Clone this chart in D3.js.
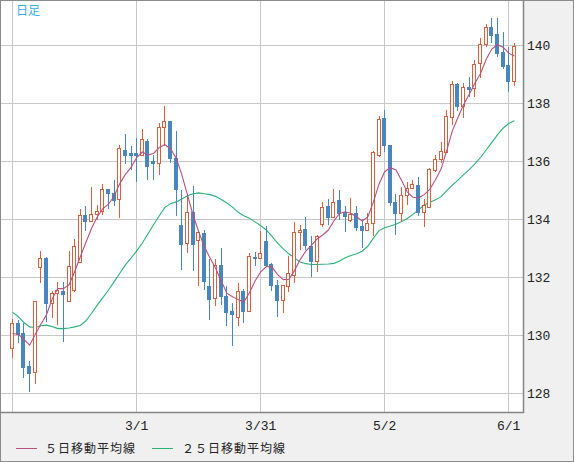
<!DOCTYPE html>
<html><head><meta charset="utf-8">
<script src="https://cdn.jsdelivr.net/npm/d3@7"></script>
<style>html,body{margin:0;padding:0;background:#f0f0f0;}svg{display:block;}</style>
</head><body>
<svg id="c" width="574" height="462"></svg>
<script>
// ---- data (USD/JPY daily) ----
const openV = [129.54,130.43,130.08,128.93,128.71,132.33,132.67,131.09,131.44,131.52,
131.18,131.55,132.53,134.15,133.92,134.17,134.29,135.03,134.90,134.69,
136.39,136.26,136.28,136.22,136.70,135.99,135.93,137.17,137.39,136.10,
133.80,133.17,134.24,133.29,133.52,131.70,131.28,132.43,131.36,130.82,
130.61,131.53,130.82,132.69,132.66,133.23,132.45,131.71,131.20,131.70,
132.08,133.55,133.66,133.08,132.54,133.84,134.46,134.07,134.67,134.23,
133.98,134.21,133.75,133.63,133.86,136.22,137.48,136.54,134.60,134.20,
134.83,135.06,135.17,134.25,134.43,135.69,136.06,136.32,137.53,138.66,
137.90,138.54,138.51,139.37,140.02,140.61,140.38,139.77,139.31,138.77];
const highV = [130.54,130.52,130.43,129.10,131.18,132.90,132.70,131.53,131.82,131.82,
132.91,133.32,134.34,134.46,135.09,134.49,135.22,135.05,135.36,136.54,
136.94,136.51,136.79,137.10,136.76,136.22,137.31,137.91,137.39,137.02,
135.01,134.87,135.13,133.57,133.63,132.62,132.62,133.00,131.68,131.10,
131.79,131.59,132.83,132.85,133.57,133.75,132.48,131.91,131.71,132.71,
133.89,133.80,134.06,133.40,133.46,134.57,134.70,135.03,134.99,134.46,
134.72,134.46,134.00,134.21,136.33,137.56,137.77,136.56,134.85,135.11,
135.29,135.34,135.46,134.68,135.75,136.21,136.67,137.76,138.77,138.70,
138.68,138.89,139.48,140.23,140.72,140.92,140.92,140.44,139.94,140.06];
const lowV = [129.20,129.71,128.53,128.05,128.30,131.78,130.46,130.57,130.34,129.77,
131.15,131.49,132.50,133.57,133.90,133.98,134.15,134.34,134.46,134.03,
135.91,135.70,135.26,136.18,135.36,135.36,135.53,136.51,135.93,134.09,
132.25,132.83,132.20,131.70,131.54,130.51,131.01,131.02,130.30,129.61,
130.30,130.41,130.78,132.39,132.62,132.37,131.51,130.62,130.76,131.47,
131.79,132.94,132.94,132.00,132.16,133.72,133.80,134.03,133.98,133.54,
133.90,133.60,133.00,133.60,133.40,136.14,136.31,134.46,133.46,133.91,
134.48,135.02,134.10,133.74,134.37,135.63,135.92,136.32,137.24,137.74,
137.47,138.22,138.22,138.85,139.94,140.06,139.60,139.16,138.39,138.59];
const closeV = [130.40,130.02,128.91,128.70,131.16,132.64,131.09,131.44,131.55,131.40,
132.38,133.07,134.15,133.92,134.17,134.29,135.03,134.90,134.67,136.45,
136.22,136.21,136.22,136.76,135.82,135.93,137.17,137.37,136.10,135.03,
133.15,134.24,133.15,133.54,131.85,131.25,132.43,131.33,130.78,130.72,
131.51,130.82,132.74,132.64,132.83,132.40,131.71,131.20,131.71,132.14,
133.55,133.63,133.09,132.54,133.40,134.41,134.07,134.59,134.21,134.09,
134.17,133.72,133.61,133.86,136.31,137.45,136.54,134.57,134.20,134.83,
135.06,135.21,134.25,134.48,135.71,136.06,136.34,137.55,138.66,137.90,
138.54,138.49,139.34,140.03,140.61,140.34,139.74,139.28,138.77,139.97];
const ma5 = [130.05,130.02,129.85,129.65,130.02,130.37,130.70,131.24,131.60,131.60,
131.73,132.19,132.70,133.20,133.68,134.07,134.36,134.51,134.79,135.22,
135.54,135.78,136.12,136.31,136.21,136.26,136.47,136.56,136.42,136.10,
135.53,134.84,134.13,133.57,133.04,132.66,132.30,131.86,131.44,131.32,
131.22,131.14,131.46,131.86,132.18,132.36,132.34,132.08,131.91,131.92,
132.22,132.60,132.89,133.09,133.31,133.45,133.62,133.94,134.19,134.25,
134.20,134.08,133.93,134.07,134.59,135.21,135.63,135.77,135.69,135.33,
134.93,134.75,134.73,134.84,135.02,135.35,135.72,136.36,137.04,137.50,
137.95,138.30,138.68,139.02,139.50,139.86,140.01,139.92,139.72,139.62];
const ma25 = [130.78,130.63,130.43,130.28,130.26,130.32,130.34,130.29,130.22,130.22,
130.24,130.28,130.33,130.49,130.75,131.03,131.29,131.55,131.84,132.13,
132.42,132.65,132.90,133.17,133.49,133.80,134.11,134.40,134.53,134.59,
134.69,134.80,134.87,134.90,134.87,134.84,134.78,134.67,134.55,134.41,
134.23,134.11,134.03,133.90,133.77,133.62,133.40,133.17,132.97,132.80,
132.66,132.52,132.46,132.43,132.43,132.44,132.45,132.47,132.55,132.66,
132.74,132.80,132.89,133.06,133.34,133.60,133.70,133.76,133.82,133.91,
134.02,134.16,134.31,134.48,134.57,134.66,134.77,134.98,135.17,135.34,
135.53,135.70,135.90,136.12,136.38,136.64,136.90,137.13,137.29,137.39];
const xTickIdx = [0, 22, 44, 66, 88];
const xTickLabels = ["", "3/1", "3/31", "5/2", "6/1"];
const yTicks = [128, 130, 132, 134, 136, 138, 140];
const legendNames = ["５日移動平均線", "２５日移動平均線"];
const periodLabel = "日足";

// ---- drawing ----
const W = 574, H = 462;
const plot = {x0: 1, x1: 523, y0: 1, y1: 412};
const UP = "#d9603c", DOWN = "#4a86be", MA5C = "#b5527f", MA25C = "#2bb376";
const svg = d3.select("#c");
const x = d3.scaleLinear().domain([0, 88]).range([12.7, 508.7]);
const y = d3.scaleLinear().domain([127.345, 141.517]).range([412, 1]);

svg.append("rect").attr("x",0.5).attr("y",0.5).attr("width",W-1).attr("height",H-1)
  .attr("fill","#f0f0f0").attr("stroke","#8c8c8c");
svg.append("rect").attr("x",plot.x0).attr("y",plot.y0).attr("width",plot.x1-plot.x0).attr("height",plot.y1-plot.y0)
  .attr("fill","#ffffff");

const grid = svg.append("g").attr("stroke","#c8c8c8").attr("stroke-width",1).attr("shape-rendering","crispEdges");
yTicks.forEach(v => grid.append("line").attr("x1",plot.x0).attr("x2",plot.x1)
  .attr("y1",Math.round(y(v))+0.5).attr("y2",Math.round(y(v))+0.5));
xTickIdx.forEach(i => grid.append("line").attr("y1",plot.y0).attr("y2",plot.y1)
  .attr("x1",Math.floor(x(i))+0.5).attr("x2",Math.floor(x(i))+0.5));

// plot frame (right & bottom)
svg.append("line").attr("x1",plot.x1+0.5).attr("x2",plot.x1+0.5).attr("y1",0).attr("y2",plot.y1+1)
  .attr("stroke","#858585").attr("stroke-width",1.5);
svg.append("line").attr("x1",0).attr("x2",plot.x1+1).attr("y1",plot.y1+0.5).attr("y2",plot.y1+0.5)
  .attr("stroke","#858585").attr("stroke-width",1.5);

// moving averages
const idx = d3.range(closeV.length);
const line = arr => d3.line().x(i => x(i)).y(i => y(arr[i]));
svg.append("path").attr("d", line(ma25)(idx)).attr("fill","none").attr("stroke",MA25C).attr("stroke-width",1.1);

// candles
const cg = svg.append("g").attr("shape-rendering","crispEdges");
idx.forEach(i => {
  const up = closeV[i] >= openV[i];
  const c = up ? UP : DOWN;
  const R = Math.floor(x(i));
  const cx = R + 0.5;
  cg.append("line").attr("x1",cx).attr("x2",cx)
    .attr("y1",Math.round(y(highV[i]))).attr("y2",Math.round(y(lowV[i])))
    .attr("stroke",c).attr("stroke-width",1);
  const top = Math.round(y(Math.max(openV[i], closeV[i])));
  const bot = Math.round(y(Math.min(openV[i], closeV[i])));
  if (up) {
    cg.append("rect").attr("x",R-1.5).attr("y",top+0.5).attr("width",3).attr("height",Math.max(bot-top,1))
      .attr("fill","#ffffff").attr("stroke",c).attr("stroke-width",1);
  } else {
    cg.append("rect").attr("x",R-2).attr("y",top).attr("width",4).attr("height",Math.max(bot-top+1,2))
      .attr("fill",c);
  }
});

svg.append("path").attr("d", line(ma5)(idx)).attr("fill","none").attr("stroke",MA5C).attr("stroke-width",1.1);

// axes labels
const fontMono = "'Liberation Mono','DejaVu Sans Mono',monospace";
svg.append("g").selectAll("text").data(yTicks).join("text")
  .attr("x",527).attr("y",d => y(d)).attr("dy","0.36em")
  .attr("font-family",fontMono).attr("font-size",13).attr("fill","#222").text(d => d);
svg.append("g").selectAll("text").data(xTickIdx).join("text")
  .attr("x",i => x(i)).attr("y",430).attr("text-anchor","middle")
  .attr("font-family",fontMono).attr("font-size",13).attr("fill","#222")
  .text((d,k) => xTickLabels[k]);

svg.append("text").attr("x",16).attr("y",15).attr("font-family","'Noto Sans CJK JP',sans-serif")
  .attr("font-size",12).attr("fill","#33aee6").text(periodLabel);

// legend
const lg = svg.append("g");
[[16, MA5C, 45], [152, MA25C, 182]].forEach(([lx, col, tx], k) => {
  lg.append("line").attr("x1",lx).attr("x2",lx+21).attr("y1",448.5).attr("y2",448.5).attr("stroke",col);
  lg.append("text").attr("x",tx).attr("y",453).attr("font-family","'Noto Sans CJK JP',sans-serif")
    .attr("font-size",12).attr("letter-spacing",1).attr("fill","#222").text(legendNames[k]);
});
</script>
</body></html>
